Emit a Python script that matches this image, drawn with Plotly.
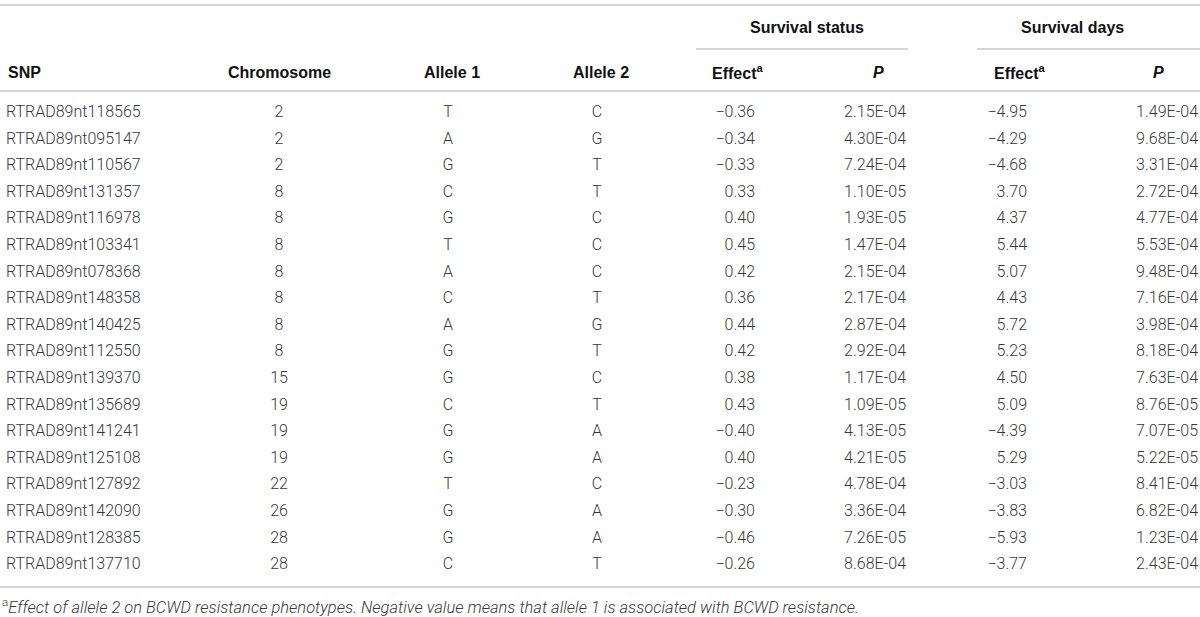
import plotly.graph_objects as go

# table content
snp = ["RTRAD89nt118565", "RTRAD89nt095147", "RTRAD89nt110567", "RTRAD89nt131357",
       "RTRAD89nt116978", "RTRAD89nt103341", "RTRAD89nt078368", "RTRAD89nt148358",
       "RTRAD89nt140425", "RTRAD89nt112550", "RTRAD89nt139370", "RTRAD89nt135689",
       "RTRAD89nt141241", "RTRAD89nt125108", "RTRAD89nt127892", "RTRAD89nt142090",
       "RTRAD89nt128385", "RTRAD89nt137710"]
chromosome = [2, 2, 2, 8, 8, 8, 8, 8, 8, 8, 15, 19, 19, 19, 22, 26, 28, 28]
allele1 = ["T", "A", "G", "C", "G", "T", "A", "C", "A", "G", "G", "C", "G", "G", "T", "G", "G", "C"]
allele2 = ["C", "G", "T", "T", "C", "C", "C", "T", "G", "T", "C", "T", "A", "A", "C", "A", "A", "T"]
status_effect = [-0.36, -0.34, -0.33, 0.33, 0.40, 0.45, 0.42, 0.36, 0.44, 0.42,
                 0.38, 0.43, -0.40, 0.40, -0.23, -0.30, -0.46, -0.26]
status_p = [2.15e-04, 4.30e-04, 7.24e-04, 1.10e-05, 1.93e-05, 1.47e-04, 2.15e-04, 2.17e-04, 2.87e-04,
            2.92e-04, 1.17e-04, 1.09e-05, 4.13e-05, 4.21e-05, 4.78e-04, 3.36e-04, 7.26e-05, 8.68e-04]
days_effect = [-4.95, -4.29, -4.68, 3.70, 4.37, 5.44, 5.07, 4.43, 5.72, 5.23,
               4.50, 5.09, -4.39, 5.29, -3.03, -3.83, -5.93, -3.77]
days_p = [1.49e-04, 9.68e-04, 3.31e-04, 2.72e-04, 4.77e-04, 5.53e-04, 9.48e-04, 7.16e-04, 3.98e-04,
          8.18e-04, 7.63e-04, 8.76e-05, 7.07e-05, 5.22e-05, 8.41e-04, 6.82e-04, 1.23e-04, 2.43e-04]
footnote = ("<sup>a</sup><i>Effect of allele 2 on BCWD resistance phenotypes. "
            "Negative value means that allele 1 is associated with BCWD resistance.</i>")

W, H = 1200, 617
ROW_TOP, ROW_H = 113, 26.6
rows = [ROW_TOP + ROW_H * i for i in range(len(snp))]

BODY = dict(family="Roboto", size=16, color="#383838", weight=300)
HEAD = dict(family="Liberation Sans", size=16, color="#111111")
RULE = dict(color="#c8c8c8", width=1.6)


def fmt_eff(v):
    return f"{v:.2f}".replace("-", "\u2212")


def fmt_p(v):
    return f"{v:.2E}"


fig = go.Figure()


def col(x, vals, pos):
    fig.add_trace(go.Scatter(x=[x] * len(vals), y=rows, mode="text", text=vals,
                             textposition=pos, textfont=BODY, hoverinfo="skip",
                             cliponaxis=False, showlegend=False))


col(6, snp, "middle right")
col(279, [str(c) for c in chromosome], "middle center")
col(448, allele1, "middle center")
col(597, allele2, "middle center")
col(755, [fmt_eff(v) for v in status_effect], "middle left")
col(906, [fmt_p(v) for v in status_p], "middle left")
col(1027, [fmt_eff(v) for v in days_effect], "middle left")
col(1198, [fmt_p(v) for v in days_p], "middle left")

# header text
heads = [
    (807, 27, "<b>Survival status</b>", "center"),
    (1072, 27, "<b>Survival days</b>", "center"),
    (6, 72, "<b>SNP</b>", "left"),
    (279, 72, "<b>Chromosome</b>", "center"),
    (452, 72, "<b>Allele 1</b>", "center"),
    (601, 72, "<b>Allele 2</b>", "center"),
    (710, 72, "<b>Effect<sup>a</sup></b>", "left"),
    (878, 72, "<b><i>P</i></b>", "center"),
    (992, 72, "<b>Effect<sup>a</sup></b>", "left"),
    (1158, 72, "<b><i>P</i></b>", "center"),
]
for x, y, t, anc in heads:
    fig.add_annotation(x=x, y=y, text=t, xanchor=anc, yanchor="middle",
                       showarrow=False, font=HEAD)

fig.add_annotation(x=0, y=606, text=footnote, xanchor="left", yanchor="middle",
                   showarrow=False, font=dict(family="Roboto", size=16.5, color="#383838", weight=300))

# rules
for x0, x1, y in [(0, W, 5), (696, 908, 49), (977, W, 49), (0, W, 91), (0, W, 587)]:
    fig.add_shape(type="line", x0=x0, x1=x1, y0=y, y1=y, line=RULE)

fig.update_xaxes(range=[0, W], visible=False)
fig.update_yaxes(range=[H, 0], visible=False)
fig.update_layout(width=W, height=H, margin=dict(l=0, r=0, t=0, b=0),
                  plot_bgcolor="white", paper_bgcolor="white")

fig.write_html("out.html", config={"displayModeBar": False},
               post_script="document.body.style.margin='0';")
